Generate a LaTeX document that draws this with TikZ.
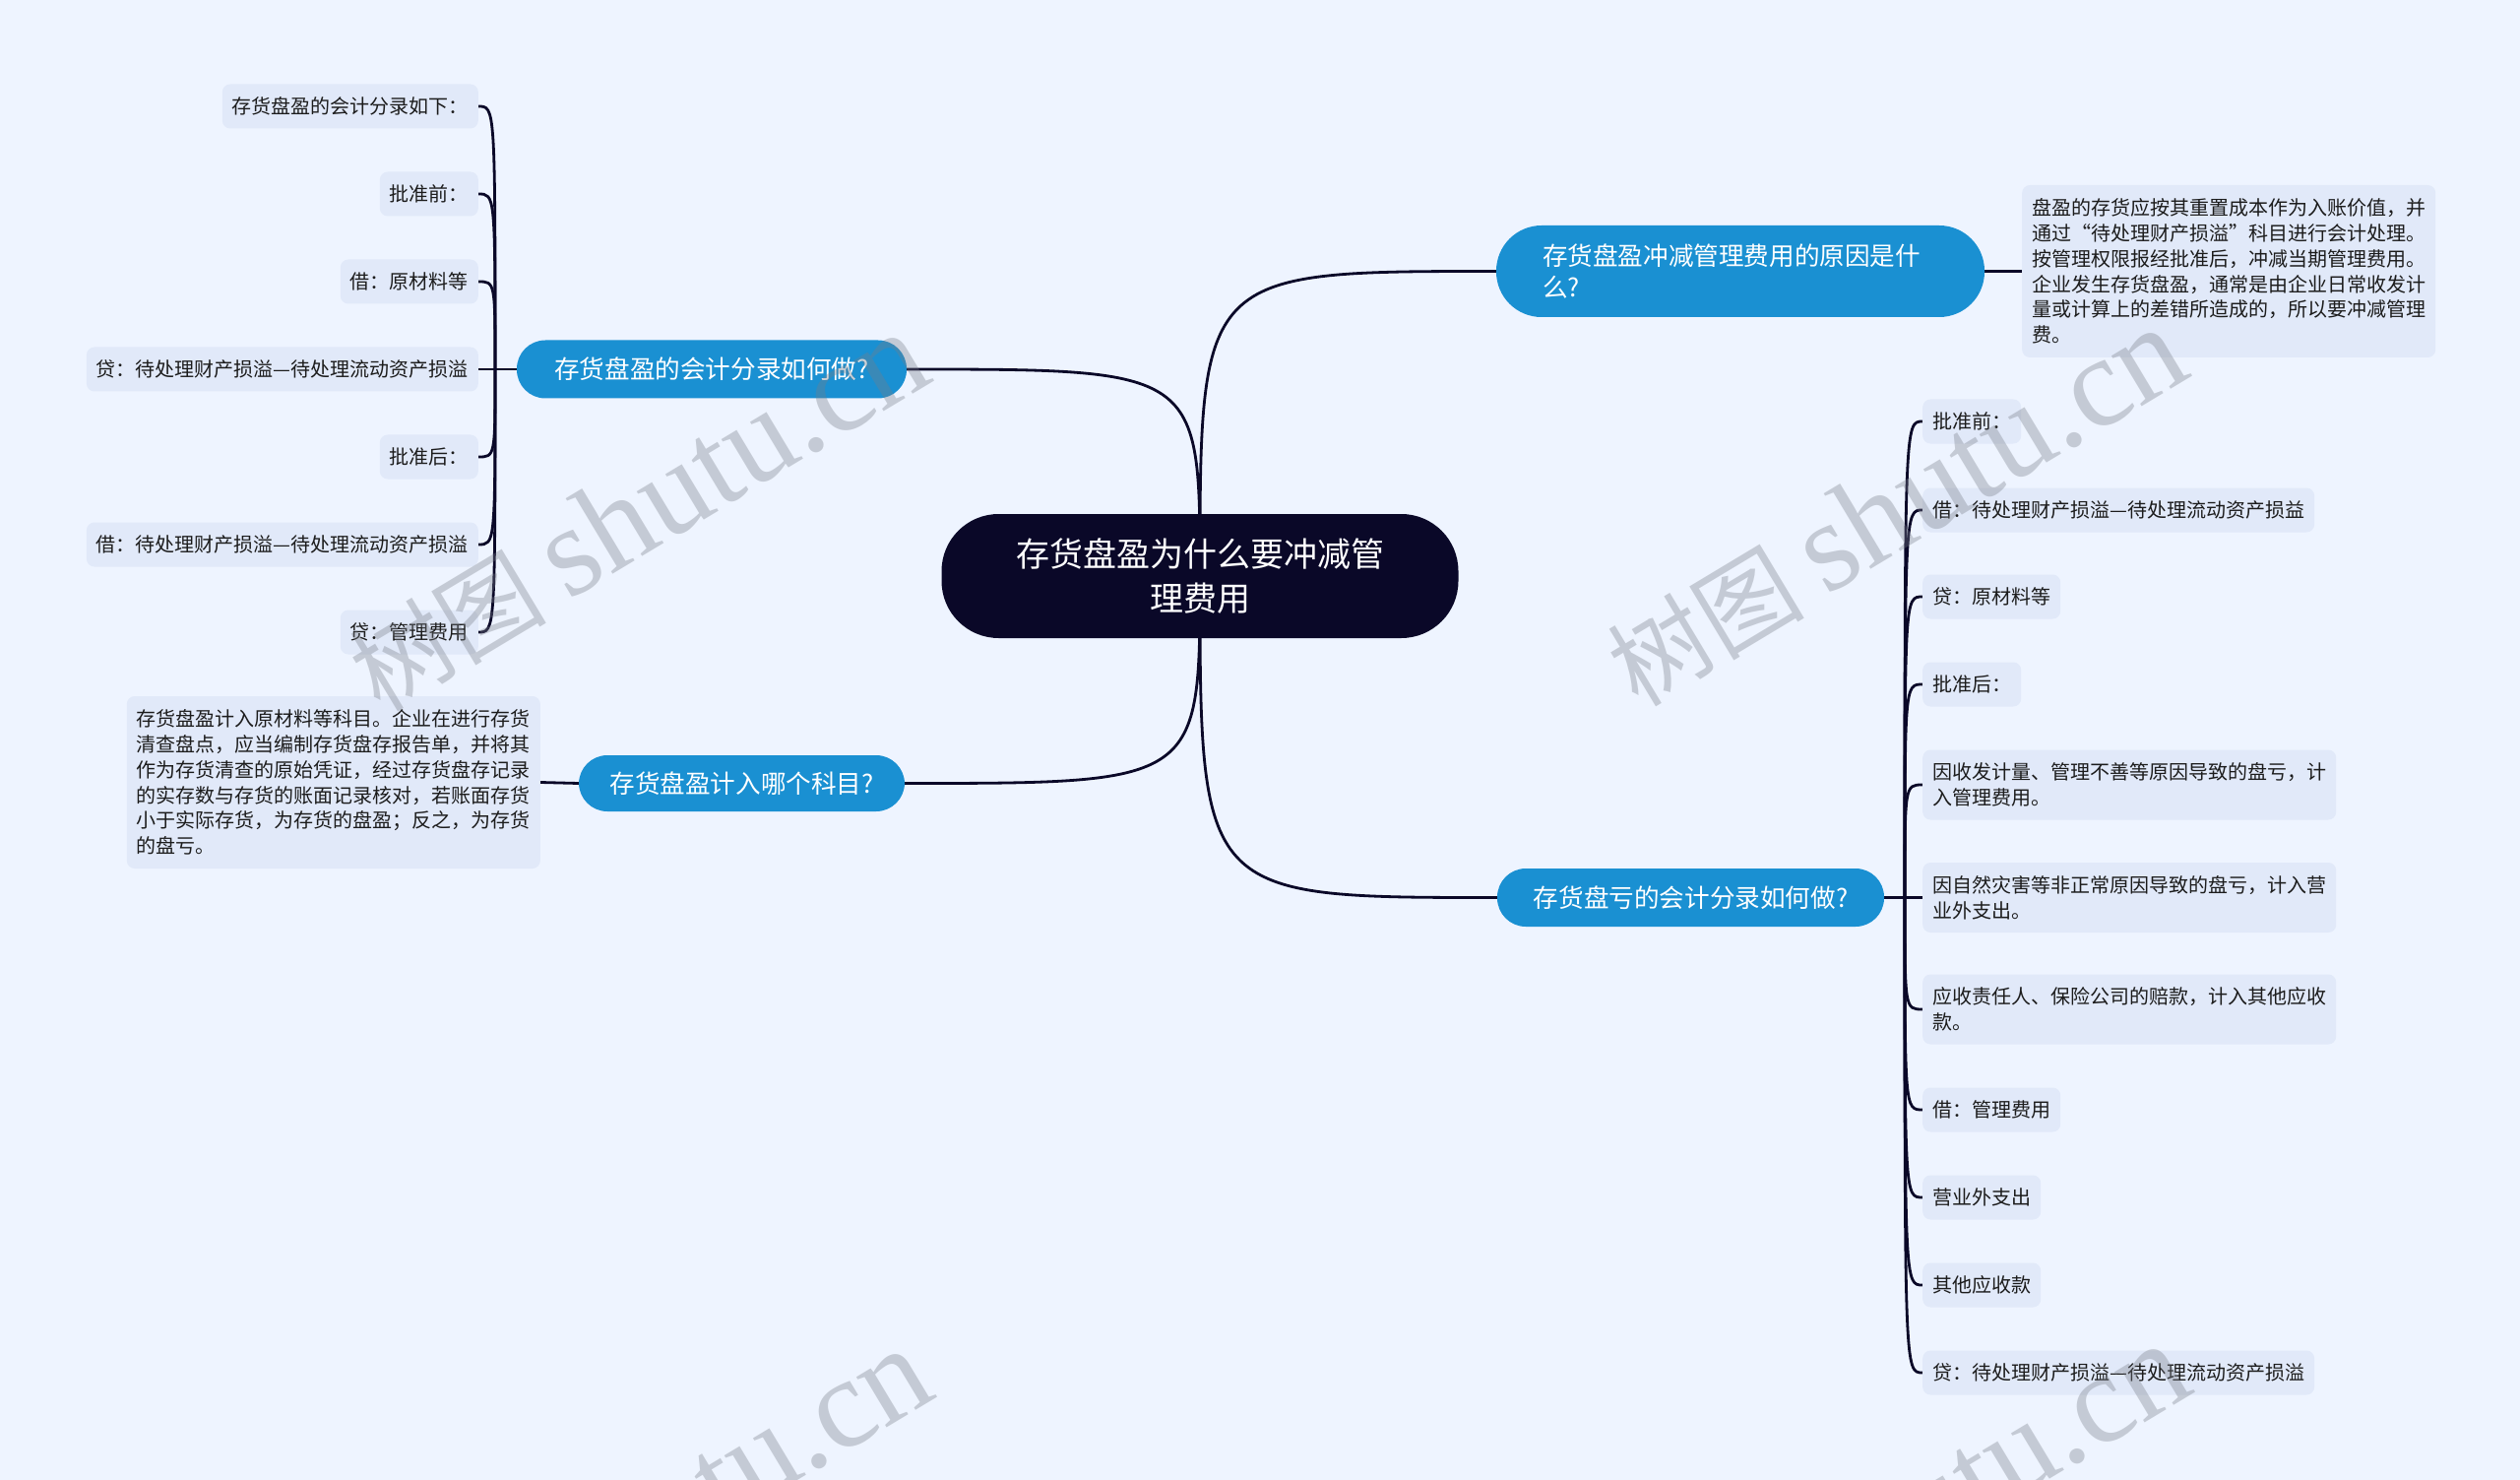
\documentclass[tikz,border=0pt]{standalone}
\usepackage{fontspec}
\setmainfont{Noto Sans CJK SC}
\newfontfamily\wmlat{Liberation Serif}
\pgfdeclarelayer{back}
\pgfdeclarelayer{edges}
\pgfsetlayers{back,edges,main}
\definecolor{bgc}{HTML}{EEF4FF}
\definecolor{leafc}{HTML}{E1E9F9}
\definecolor{bluec}{HTML}{1A90D2}
\definecolor{rootc}{HTML}{0A0828}
\definecolor{linec}{HTML}{0A0828}
\definecolor{textc}{HTML}{1C1C1C}
\definecolor{wmc}{HTML}{787D87}
\newcommand{\wmtext}{{\fontsize{100}{105}\selectfont 树图}\hspace{22pt}{\wmlat\fontsize{130}{135}\selectfont shutu.cn}}
\tikzset{
  rootnode/.style={fill=rootc, text=white, rounded corners=58pt, minimum width=525pt, minimum height=126pt, align=center, inner sep=0pt, font=\fontsize{34}{45}\selectfont},
  branch/.style={fill=bluec, text=white, rounded corners=29pt, minimum height=59pt, inner sep=0pt, align=center, font=\fontsize{25.6}{32}\selectfont},
  leaf/.style={fill=leafc, text=textc, rounded corners=8pt, inner xsep=10pt, inner ysep=0pt, minimum height=45pt, align=left, font=\fontsize{20}{25.7}\selectfont},
  conn/.style={draw=linec, line width=2.8pt},
  wm/.style={rotate=31, text=wmc, text opacity=0.35, inner sep=0pt}
}
\begin{document}
\begin{tikzpicture}[x=1pt,y=-1pt]
\useasboundingbox (0,0) rectangle (2560,1503);
\begin{pgfonlayer}{back}
\fill[bgc] (0,0) rectangle (2560,1503);
\end{pgfonlayer}

% root
\node[rootnode] (root) at (1219,585) {存货盘盈为什么要冲减管\\理费用};

% branches
\node[branch, minimum width=396pt] (n1) at (723,375) {存货盘盈的会计分录如何做?};
\node[branch, minimum width=331pt, minimum height=57pt] (n2) at (753.5,795.5) {存货盘盈计入哪个科目?};
\node[branch, minimum height=93pt, rounded corners=46pt, text width=402pt, align=left, inner xsep=47pt] (n3) at (1768,275.5) {存货盘盈冲减管理费用的原因是什\\么?};
\node[branch, minimum width=393pt] (n4) at (1717.5,911.5) {存货盘亏的会计分录如何做?};

% text boxes
\node[leaf, text width=400pt, minimum height=175pt, anchor=east] (t2) at (549,794.5) {存货盘盈计入原材料等科目。企业在进行存货\\清查盘点，应当编制存货盘存报告单，并将其\\作为存货清查的原始凭证，经过存货盘存记录\\的实存数与存货的账面记录核对，若账面存货\\小于实际存货，为存货的盘盈；反之，为存货\\的盘亏。};
\node[leaf, text width=400pt, minimum height=175pt, anchor=west] (t3) at (2054,275.5) {盘盈的存货应按其重置成本作为入账价值，并\\通过“待处理财产损溢”科目进行会计处理。\\按管理权限报经批准后，冲减当期管理费用。\\企业发生存货盘盈，通常是由企业日常收发计\\量或计算上的差错所造成的，所以要冲减管理\\费。};

% left leaves
\node[leaf, anchor=east] (l1) at (486,108) {存货盘盈的会计分录如下：};
\node[leaf, anchor=east] (l2) at (486,197) {批准前：};
\node[leaf, anchor=east] (l3) at (486,286) {借：原材料等};
\node[leaf, anchor=east] (l4) at (486,375) {贷：待处理财产损溢—待处理流动资产损溢};
\node[leaf, anchor=east] (l5) at (486,464) {批准后：};
\node[leaf, anchor=east] (l6) at (486,553) {借：待处理财产损溢—待处理流动资产损溢};
\node[leaf, anchor=east] (l7) at (486,642) {贷：管理费用};

% right leaves
\node[leaf, anchor=west] (r1) at (1953,428) {批准前：};
\node[leaf, anchor=west] (r2) at (1953,518) {借：待处理财产损溢—待处理流动资产损益};
\node[leaf, anchor=west] (r3) at (1953,606) {贷：原材料等};
\node[leaf, anchor=west] (r4) at (1953,695) {批准后：};
\node[leaf, anchor=west, text width=400pt, minimum height=71pt] (r5) at (1953,797) {因收发计量、管理不善等原因导致的盘亏，计\\入管理费用。};
\node[leaf, anchor=west, text width=400pt, minimum height=71pt] (r6) at (1953,911.5) {因自然灾害等非正常原因导致的盘亏，计入营\\业外支出。};
\node[leaf, anchor=west, text width=400pt, minimum height=71pt] (r7) at (1953,1025) {应收责任人、保险公司的赔款，计入其他应收\\款。};
\node[leaf, anchor=west] (r8) at (1953,1127) {借：管理费用};
\node[leaf, anchor=west] (r9) at (1953,1216) {营业外支出};
\node[leaf, anchor=west] (r10) at (1953,1305) {其他应收款};
\node[leaf, anchor=west] (r11) at (1953,1394) {贷：待处理财产损溢—待处理流动资产损溢};

\coordinate (j1) at (503,375);
\coordinate (j4) at (1935,911.5);

\begin{pgfonlayer}{edges}
\foreach \n in {n1,n2}
  \draw[conn] (root.center) .. controls (root.center |- \n.east) .. (\n.east);
\foreach \n in {n3,n4}
  \draw[conn] (root.center) .. controls (root.center |- \n.west) .. (\n.west);
\draw[conn] (n1.west) -- (j1);
\foreach \l in {l1,l2,l3,l4,l5,l6,l7}
  \draw[conn] (j1) .. controls (j1 |- \l.east) .. (\l.east);
\draw[conn] (n2.west) -- (t2.east);
\draw[conn] (n3.east) -- (t3.west);
\draw[conn] (n4.east) -- (j4);
\foreach \r in {r1,r2,r3,r4,r5,r6,r7,r8,r9,r10,r11}
  \draw[conn] (j4) .. controls (j4 |- \r.west) .. (\r.west);
\end{pgfonlayer}

% watermarks
\begin{scope}
\clip (0,0) rectangle (2560,1503);
\node[wm] (wm1) at (648,520) {\wmtext};
\node[wm] (wm2) at (1926,515) {\wmtext};
\node[wm] (wm3) at (651,1552) {\wmtext};
\node[wm] (wm4) at (1929,1547) {\wmtext};
\end{scope}
\end{tikzpicture}
\end{document}
